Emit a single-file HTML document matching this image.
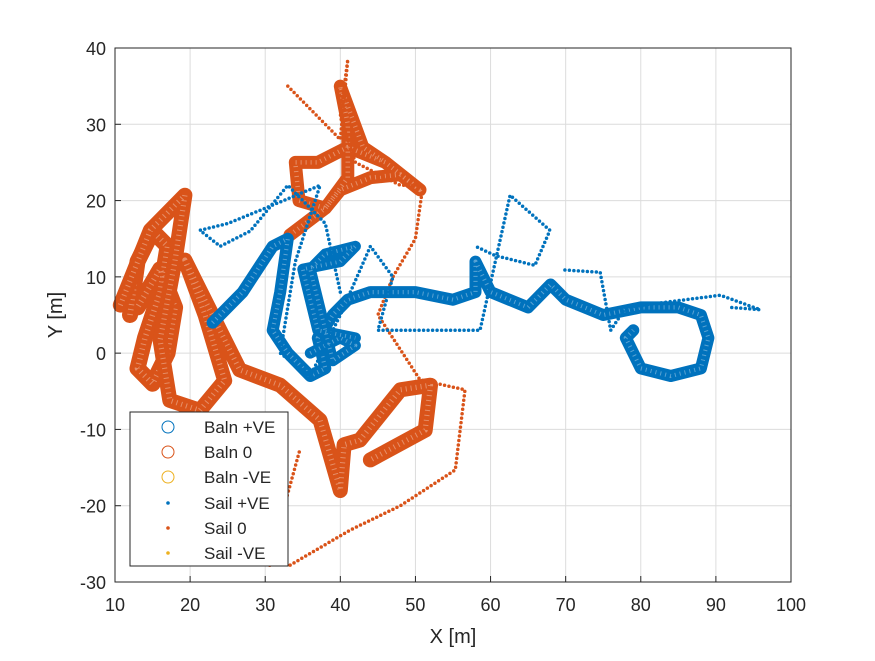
<!DOCTYPE html>
<html><head><meta charset="utf-8"><style>
body{margin:0;background:#fff}
svg text{font-family:"Liberation Sans",sans-serif;fill:#262626}
</style></head><body>
<svg id="chart" width="875" height="656" xmlns="http://www.w3.org/2000/svg">
<rect width="875" height="656" fill="#fff"/>
<g id="grid"></g>
<g id="series"></g>
<g id="axes"></g>
<text x="453" y="643" font-size="20" text-anchor="middle">X [m]</text>
<text x="62" y="315" font-size="20" text-anchor="middle" transform="rotate(-90 62 315)">Y [m]</text>
<g>
<rect x="130" y="412" width="158" height="154" fill="#fff" stroke="#262626" stroke-width="1"/>
<circle cx="168" cy="427" r="6" fill="none" stroke="#0072BD"/>
<text x="204" y="433" font-size="17">Baln +VE</text>
<circle cx="168" cy="452" r="6" fill="none" stroke="#D95319"/>
<text x="204" y="458" font-size="17">Baln 0</text>
<circle cx="168" cy="477" r="6" fill="none" stroke="#EDB120"/>
<text x="204" y="483" font-size="17">Baln -VE</text>
<circle cx="168" cy="503" r="1.8" fill="#0072BD"/>
<text x="204" y="509" font-size="17">Sail +VE</text>
<circle cx="168" cy="528" r="1.8" fill="#D95319"/>
<text x="204" y="534" font-size="17">Sail 0</text>
<circle cx="168" cy="553" r="1.8" fill="#EDB120"/>
<text x="204" y="559" font-size="17">Sail -VE</text>
</g>
</svg>
<script>
const xTicks=[10,20,30,40,50,60,70,80,90,100];
const yTicks=[-30,-20,-10,0,10,20,30,40];
const balnPosX=[23,27,31,33,32,31,33,36,38,37,39,41,44,50,55,58,58,60,65,68,70,75,80,85,88,89,88,84,80,78,79];
const balnPosY=[4,8,14,15,8,3,0,-3,-2,2,5,7,8,8,7,8,12,8,6,9,7,5,6,6,5,2,-2,-3,-2,2,3];
const balnPos2X=[36,40,42,39,36,38,42,40,35,37,42];
const balnPos2Y=[0,2,1,-1,11,13,14,12,11,3,2];
const balnZeroX=[10.7,14.7,19.3,18,16,17.3,21.3,24.6,22,19.3,26.6,32,37.3,40,40.5,42.6,48,52,51.3,44];
const balnZeroY=[6.3,16.1,20.7,12.2,1.7,-6.2,-7.5,-3.6,5,12.2,-2.2,-4.2,-8.8,-18,-12,-11.4,-4.8,-4.2,-10.1,-14];
const balnZeroLeftX=[12,13,15,17,16,14,13,15,17,18,16,13];
const balnZeroLeftY=[5,12,16,14,8,2,-2,-4,0,6,11,6];
const balnZero2X=[33.3,38,40,44,48,50.6,46,41,37,34,34.5,38,41,41,40,43,46];
const balnZero2Y=[15.5,19,21.4,23,23.4,21.4,25,27,25,25,20,19,23,30,35,27,25];
const sailPosX=[40,38,33,28,24,21.3,25,30,37.3,34,32,36,40,44,47,45,58.6,62.6,67.9,65.9,60.6,58];
const sailPosY=[8,17,22,16,14,16.1,17,19,22,12,0,-3,5,14,10,3,3,20.7,16.1,11.5,12.8,14];
const sailPos2X=[69.9,74.6,76,78,90.6,95.9,92];
const sailPos2Y=[10.9,10.6,3,6,7.6,5.7,6];
const sailZeroX=[33,37,40,41,40,42,48,51,50,47,45,50.6,56.6,55.3,48,41.3,33.3];
const sailZeroY=[35,31,28,38.5,31,25,22,22,15,10,5,-3.5,-4.8,-15.3,-20,-23.2,-27.8];
const sailZero2X=[30.6,32,34.6];
const sailZero2Y=[-27.8,-22,-12.7];
const X0=115,X1=791,Y0=582,Y1=48;
const sx=v=>X0+(v-10)/90*(X1-X0);
const sy=v=>Y0-(v+30)/70*(Y0-Y1);
const NS="http://www.w3.org/2000/svg";
function mk(t,a,parent){const e=document.createElementNS(NS,t);for(const k in a)e.setAttribute(k,a[k]);parent.appendChild(e);return e;}
const grid=document.getElementById('grid'),axes=document.getElementById('axes'),ser=document.getElementById('series');
xTicks.forEach(t=>{const x=sx(t);
const g=mk('line',{x1:x,x2:x,y1:Y1,y2:Y0,stroke:'#dcdcdc'},grid);

const tk=mk('line',{x1:x,x2:x,y1:Y0,y2:Y0-6,stroke:'#262626'},axes);

const lb=mk('text',{x:x,y:Y0+29,'font-size':18,'text-anchor':'middle'},axes);lb.textContent=t;
});
yTicks.forEach(t=>{const y=sy(t);
const g=mk('line',{x1:X0,x2:X1,y1:y,y2:y,stroke:'#dcdcdc'},grid);

const tk=mk('line',{x1:X0,x2:X0+6,y1:y,y2:y,stroke:'#262626'},axes);

const lb=mk('text',{x:X0-9,y:y+7,'font-size':18,'text-anchor':'end'},axes);lb.textContent=t;
});
const box=mk('rect',{x:X0,y:Y1,width:X1-X0,height:Y0-Y1,fill:'none',stroke:'#262626'},axes);

function pts(xs,ys){return xs.map((v,i)=>sx(v).toFixed(1)+','+sy(ys[i]).toFixed(1)).join(' ');}
function band(xs,ys,c,w,name){
const p=mk('polyline',{points:pts(xs,ys),fill:'none',stroke:c,'stroke-width':w,'stroke-linejoin':'round','stroke-linecap':'round'},ser);

const q=mk('polyline',{points:pts(xs,ys),fill:'none',stroke:'#fff','stroke-width':w*0.35,'stroke-dasharray':'1 4','stroke-opacity':0.35,'stroke-linejoin':'round'},ser);
}
function dots(xs,ys,c,name){
const p=mk('polyline',{points:pts(xs,ys),fill:'none',stroke:c,'stroke-width':3.5,'stroke-dasharray':'0 4.5','stroke-linecap':'round','stroke-linejoin':'round'},ser);
}
band(balnZeroLeftX,balnZeroLeftY,'#D95319',16,'baln-0-series-left');
band(balnZeroX,balnZeroY,'#D95319',15,'baln-0-series');
band(balnZero2X,balnZero2Y,'#D95319',13,'baln-0-series-2');
dots(sailZeroX,sailZeroY,'#D95319','sail-0-series');
dots(sailZero2X,sailZero2Y,'#D95319','sail-0-series-2');
band(balnPosX,balnPosY,'#0072BD',12,'baln-pos-series');
band(balnPos2X,balnPos2Y,'#0072BD',11,'baln-pos-series-2');
dots(sailPosX,sailPosY,'#0072BD','sail-pos-series');
dots(sailPos2X,sailPos2Y,'#0072BD','sail-pos-series-2');
</script>
</body></html>
